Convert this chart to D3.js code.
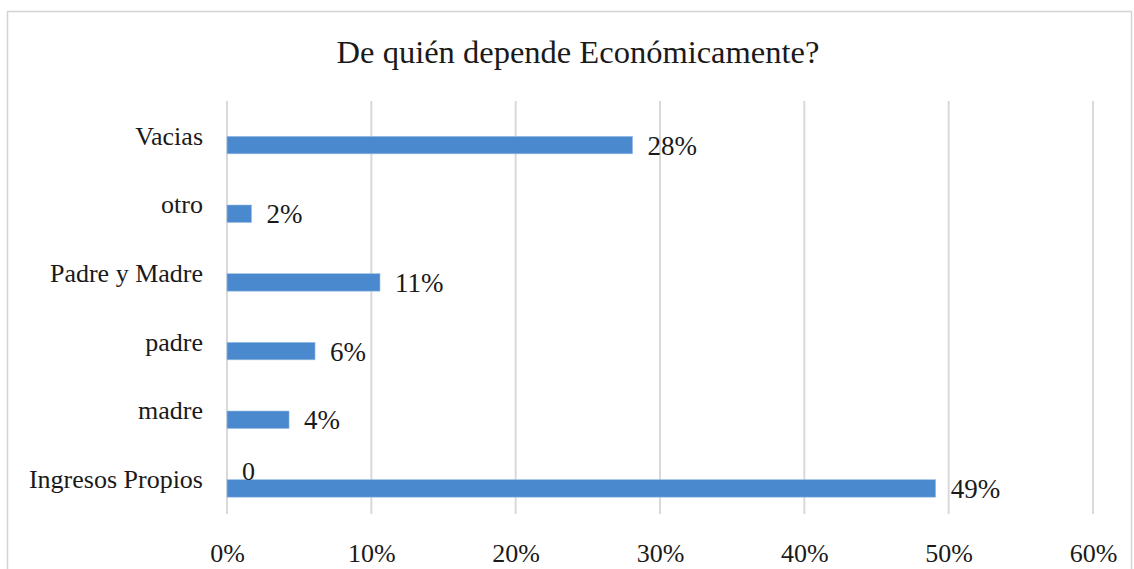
<!DOCTYPE html>
<html>
<head>
<meta charset="utf-8">
<script src="https://cdn.jsdelivr.net/npm/d3@7"></script>
<style>
  body { margin: 0; background: #fff; }
  text { font-family: "Liberation Serif", "Times New Roman", serif; fill: #1a1a1a; }
</style>
</head>
<body>
<div id="chart-area"></div>
<script>
// data
let categories = ["Vacias", "otro", "Padre y Madre", "padre", "madre", "Ingresos Propios"]
let seriesNames = ["blank", "percent"]
let blankValues = [null, null, null, null, null, 0]
let percentValues = [28.1, 1.7, 10.6, 6.1, 4.3, 49.1]
let xTicks = [0, 10, 20, 30, 40, 50, 60]

let width = 1134
let height = 569
let margin = { top: 102, right: 41, bottom: 55, left: 227 }
let canvasWidth = width - margin.left - margin.right
let canvasHeight = 514 - margin.top

let svg = d3.select("#chart-area").append("svg")
  .attr("width", width)
  .attr("height", height)

// outer chart border
svg.append("rect")
  .attr("x", 7.5).attr("y", 11.5)
  .attr("width", 1124).attr("height", 600)
  .attr("fill", "none")
  .attr("stroke", "#d4d4d4")
  .attr("stroke-width", 1.5)

svg.append("text")
  .attr("x", 578)
  .attr("y", 63)
  .attr("text-anchor", "middle")
  .style("font-size", "32.5px")
  .text("De quién depende Económicamente?")

let g = svg.append("g")
  .attr("transform", "translate(" + margin.left + "," + margin.top + ")")

let x = d3.scaleLinear()
  .domain([0, 60])
  .range([0, canvasWidth])

let y = d3.scaleBand()
  .domain(categories)
  .range([0, canvasHeight])

let yInner = d3.scaleBand()
  .domain(seriesNames)
  .range([y.bandwidth() / 2 - 17.5, y.bandwidth() / 2 + 17.5])

// gridlines
g.selectAll("line.grid")
  .data(xTicks)
  .enter().append("line")
    .attr("class", "grid")
    .attr("x1", d => x(d)).attr("x2", d => x(d))
    .attr("y1", -1).attr("y2", canvasHeight)
    .attr("stroke", "#d9d9d9")
    .attr("stroke-width", 2)

// x axis labels
let xAxis = d3.axisBottom(x)
  .tickValues(xTicks)
  .tickSize(0)
  .tickPadding(30)
  .tickFormat(d => d + "%")
let xAxisGroup = g.append("g")
  .attr("transform", "translate(0," + canvasHeight + ")")
  .call(xAxis)
xAxisGroup.select(".domain").remove()
xAxisGroup.selectAll("text")
  .style("font-size", "26px")
  .style("font-family", "'Liberation Serif', 'Times New Roman', serif")
  .attr("fill", "#1a1a1a")

// category labels
let yAxis = d3.axisLeft(y).tickSize(0).tickPadding(24)
let yAxisGroup = g.append("g").call(yAxis)
yAxisGroup.select(".domain").remove()
yAxisGroup.selectAll("text")
  .style("font-size", "26px")
  .style("font-family", "'Liberation Serif', 'Times New Roman', serif")
  .attr("fill", "#1a1a1a")

// bars for the real series
let rows = categories.map((c, i) => ({ cat: c, blank: blankValues[i], value: percentValues[i] }))

g.selectAll("rect.bar")
  .data(rows)
  .enter().append("rect")
    .attr("class", "bar")
    .attr("x", x(0))
    .attr("y", d => y(d.cat) + yInner("percent"))
    .attr("width", d => x(d.value) - x(0))
    .attr("height", yInner.bandwidth())
    .attr("fill", "#4a89cd")
    .attr("stroke", "#9cc0e6")
    .attr("stroke-width", 0.6)

g.selectAll("text.val")
  .data(rows)
  .enter().append("text")
    .attr("class", "val")
    .attr("x", d => x(d.value) + 15)
    .attr("y", d => y(d.cat) + yInner("percent") + yInner.bandwidth() / 2)
    .attr("dy", "0.36em")
    .style("font-size", "27px")
    .text(d => Math.round(d.value) + "%")

// labels of the empty series
g.selectAll("text.blank")
  .data(rows.filter(d => d.blank !== null))
  .enter().append("text")
    .attr("class", "blank")
    .attr("x", d => x(d.blank) + 15)
    .attr("y", d => y(d.cat) + yInner("blank") + yInner.bandwidth() / 2)
    .attr("dy", "0.36em")
    .style("font-size", "26px")
    .text(d => d.blank)
</script>
</body>
</html>
